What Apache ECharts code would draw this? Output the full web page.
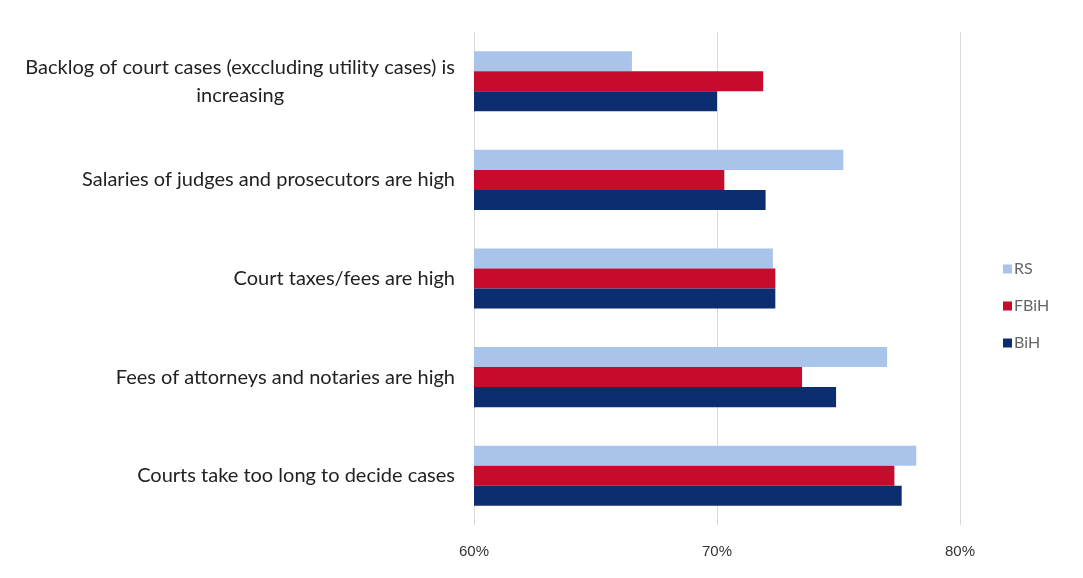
<!DOCTYPE html>
<html>
<head>
<meta charset="utf-8">
<script src="https://cdn.jsdelivr.net/npm/echarts@6/dist/echarts.min.js"></script>
<style>
  html, body { margin: 0; padding: 0; background: #ffffff; }
  #chart { width: 1083px; height: 578px; }
</style>
</head>
<body>
<div id="chart"></div>
<script>
// Survey statements, top to bottom
const categories = [
  'Backlog of court cases (exccluding utility cases) is increasing',
  'Salaries of judges and prosecutors are high',
  'Court taxes/fees are high',
  'Fees of attorneys and notaries are high',
  'Courts take too long to decide cases'
];
// Share agreeing, in percent
const rsValues   = [66.5, 75.2, 72.3, 77.0, 78.2];
const fbihValues = [71.9, 70.3, 72.4, 73.5, 77.3];
const bihValues  = [70.0, 72.0, 72.4, 74.9, 77.6];
const seriesNames = ['RS', 'FBiH', 'BiH'];
const xTicks = [60, 70, 80];

const colors = { RS: '#a9c4eb', FBiH: '#c60b2c', BiH: '#0c2d70' };
const labelFont = 'Lato, "Open Sans", sans-serif';

function wrapLabel(text) {
  // long statements break onto a second, centred line
  if (text.length > 45) {
    const cut = text.lastIndexOf(' ', 52);
    return '{c|' + text.slice(0, cut) + '}\n{c|' + text.slice(cut + 1) + '}';
  }
  return '{c|' + text + '}';
}

const chart = echarts.init(document.getElementById('chart'), null, { renderer: 'canvas' });
const valuesBySeries = { RS: rsValues, FBiH: fbihValues, BiH: bihValues };

chart.setOption({
  backgroundColor: '#ffffff',
  animation: false,
  grid: { left: 474, right: 123, top: 32, bottom: 53, containLabel: false },
  legend: {
    data: seriesNames,
    orient: 'vertical',
    left: 998,
    top: 256,
    itemWidth: 9,
    itemHeight: 9,
    itemGap: 21,
    icon: 'rect',
    textStyle: { color: '#666666', fontSize: 16, fontFamily: labelFont, padding: [0, 0, 0, -3] }
  },
  xAxis: {
    type: 'value',
    min: xTicks[0],
    max: xTicks[xTicks.length - 1],
    interval: 10,
    axisLine: { show: false },
    axisTick: { show: false },
    axisLabel: {
      margin: 19,
      color: '#333333',
      fontSize: 15,
      fontFamily: '"Liberation Sans", Arial, sans-serif',
      formatter: v => v + '%'
    },
    splitLine: { show: true, lineStyle: { color: '#d9d9d9', width: 1 } }
  },
  yAxis: {
    type: 'category',
    data: categories,
    inverse: true,
    axisLine: { show: false },
    axisTick: { show: false },
    axisLabel: {
      margin: 19,
      align: 'right',
      color: '#222222',
      fontSize: 20,
      fontFamily: labelFont,
      lineHeight: 28,
      formatter: wrapLabel,
      rich: { c: { align: 'center', fontSize: 20, fontFamily: labelFont, color: '#222222', lineHeight: 28 } }
    }
  },
  series: seriesNames.map(name => ({
    name: name,
    type: 'bar',
    data: valuesBySeries[name],
    itemStyle: { color: colors[name] },
    barGap: '0%',
    barCategoryGap: '39%'
  }))
});
</script>
</body>
</html>
